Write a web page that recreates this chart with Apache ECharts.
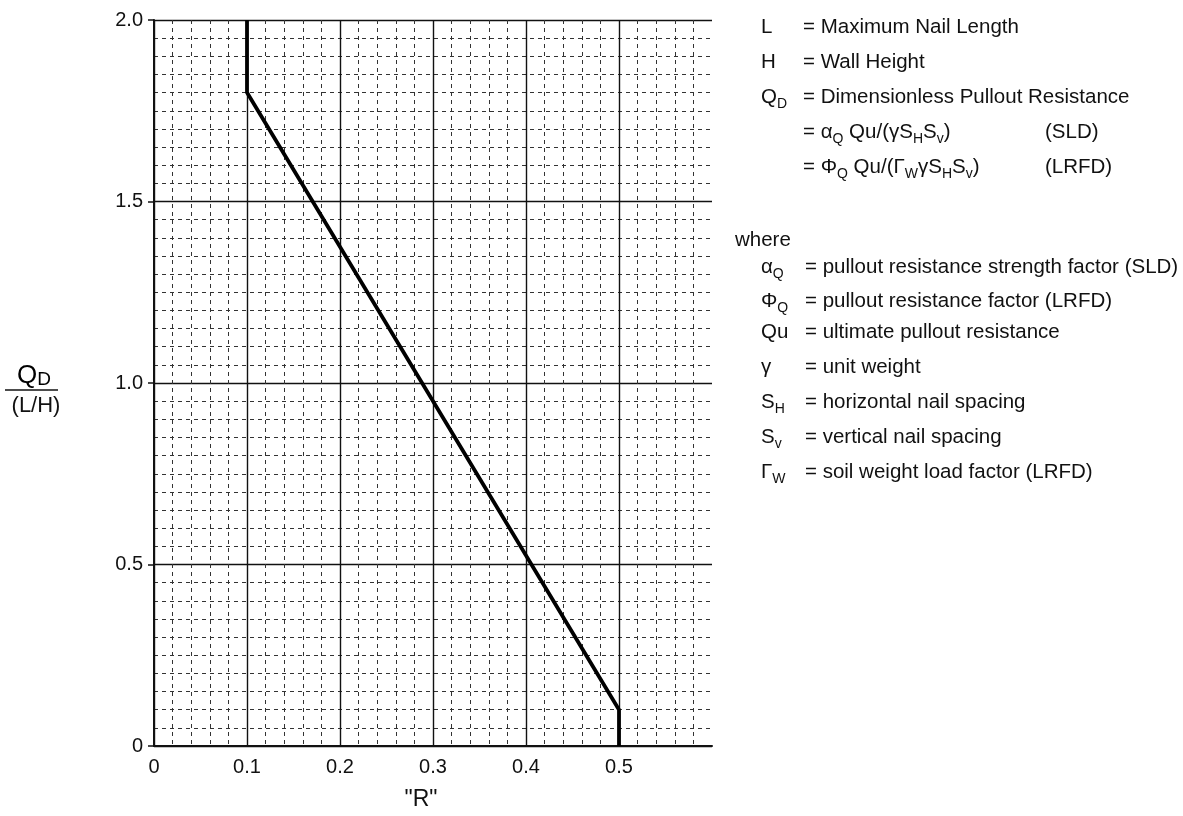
<!DOCTYPE html>
<html>
<head>
<meta charset="utf-8">
<script src="https://cdn.jsdelivr.net/npm/echarts@6/dist/echarts.min.js"></script>
<style>
html,body{margin:0;padding:0;background:#fff;}
#chart{width:1183px;height:816px;}
</style>
</head>
<body>
<div id="chart"></div>
<script>
// ---- data ----
const curveR = [0.1, 0.1, 0.5, 0.5];
const curveQ = [2.0, 1.8, 0.1, 0.0];
const xTickValues = [0, 0.1, 0.2, 0.3, 0.4, 0.5];
const yTickValues = [0, 0.5, 1.0, 1.5, 2.0];
const xAxisTitle = '"R"';
const defSymbols = ['L', 'H', 'Q{s|D}', '', ''];
const defTexts = [
  '= Maximum Nail Length',
  '= Wall Height',
  '= Dimensionless Pullout Resistance',
  '= α{s|Q}{n| Qu/(γS}{s|H}{n|S}{s|v}{n|)}',
  '= Φ{s|Q}{n| Qu/(Γ}{s|W}{n|γS}{s|H}{n|S}{s|v}{n|)}'
];
const defNotes = ['', '', '', '(SLD)', '(LRFD)'];
const whereLabel = 'where';
const whereSymbols = ['α{s|Q}', 'Φ{s|Q}', 'Qu', 'γ', 'S{s|H}', 'S{s|v}', 'Γ{s|W}'];
const whereTexts = [
  '= pullout resistance strength factor (SLD)',
  '= pullout resistance factor (LRFD)',
  '= ultimate pullout resistance',
  '= unit weight',
  '= horizontal nail spacing',
  '= vertical nail spacing',
  '= soil weight load factor (LRFD)'
];

// ---- chart ----
const FONT = '"Liberation Sans", Arial, Helvetica, sans-serif';
const chart = echarts.init(document.getElementById('chart'), null, {renderer: 'canvas'});

const richStyle = {
  n: {fontSize: 20.5, fontFamily: FONT, color: '#111', lineHeight: 28},
  s: {fontSize: 14, fontFamily: FONT, color: '#111', lineHeight: 14, verticalAlign: 'bottom'}
};
function wrap(t) {
  if (!t) return '';
  const i = t.indexOf('{');
  if (i === -1) return '{n|' + t + '}';
  if (i === 0) return t;
  return '{n|' + t.slice(0, i) + '}' + t.slice(i);
}
function txt(x, y, t, align) {
  return {
    type: 'text', x: x, y: y, silent: true,
    style: {text: wrap(t), rich: richStyle, align: align || 'left', verticalAlign: 'middle',
      fontSize: 20.5, fontFamily: FONT, fill: '#111'}
  };
}

const graphics = [];
const defRowsY = [27, 62, 97, 132, 167];
for (let i = 0; i < defTexts.length; i++) {
  if (defSymbols[i]) graphics.push(txt(761, defRowsY[i], defSymbols[i]));
  graphics.push(txt(803, defRowsY[i], defTexts[i]));
  if (defNotes[i]) graphics.push(txt(1045, defRowsY[i], defNotes[i]));
}
graphics.push(txt(735, 240, whereLabel));
const whereRowsY = [267, 301, 332, 367, 402, 437, 472];
for (let i = 0; i < whereTexts.length; i++) {
  graphics.push(txt(761, whereRowsY[i], whereSymbols[i]));
  graphics.push(txt(805, whereRowsY[i], whereTexts[i]));
}
// y-axis title as fraction QD / (L/H)
graphics.push({
  type: 'text', x: 34, y: 376, silent: true,
  style: {text: '{q|Q}{d|D}', align: 'center', verticalAlign: 'middle',
    rich: {q: {fontSize: 26, fontFamily: FONT, color: '#111', lineHeight: 26, verticalAlign: 'bottom'},
           d: {fontSize: 19, fontFamily: FONT, color: '#111', lineHeight: 22, verticalAlign: 'bottom'}}}
});
graphics.push({type: 'line', silent: true, shape: {x1: 5, y1: 390, x2: 58, y2: 390},
  style: {stroke: '#111', lineWidth: 1.5}});
graphics.push({type: 'text', x: 36, y: 406, silent: true,
  style: {text: '(L/H)', align: 'center', verticalAlign: 'middle', fontSize: 22, fontFamily: FONT, fill: '#111'}});

function fmt(v) { return Math.abs(v) < 1e-9 ? '0' : v.toFixed(1); }

const option = {
  backgroundColor: '#fff',
  animation: false,
  grid: {left: 154, right: 471, top: 20, bottom: 67, containLabel: false},
  xAxis: {
    type: 'value', min: 0, max: 0.6, interval: 0.1,
    name: xAxisTitle, nameLocation: 'middle', nameGap: 42,
    nameTextStyle: {fontSize: 23, fontFamily: FONT, color: '#111', padding: [0, 24, 0, 0]},
    axisLine: {show: true, lineStyle: {color: '#111', width: 2}},
    axisTick: {show: false},
    axisLabel: {fontSize: 20, fontFamily: FONT, color: '#111', margin: 11, showMaxLabel: false,
      formatter: function (v) { return xTickValues.some(t => Math.abs(t - v) < 1e-9) ? fmt(v) : ''; }},
    splitLine: {show: true, showMaxLine: false, lineStyle: {color: '#111', width: 1.4}},
    minorTick: {show: false, splitNumber: 5},
    minorSplitLine: {show: true, lineStyle: {color: '#333', width: 1, type: [4, 4]}}
  },
  yAxis: {
    type: 'value', min: 0, max: 2.0, interval: 0.5,
    axisLine: {show: true, lineStyle: {color: '#111', width: 2}},
    axisTick: {show: true, length: 6, lineStyle: {color: '#111', width: 1.5}},
    axisLabel: {fontSize: 20, fontFamily: FONT, color: '#111', margin: 11,
      formatter: function (v) { return yTickValues.some(t => Math.abs(t - v) < 1e-9) ? fmt(v) : ''; }},
    splitLine: {show: true, lineStyle: {color: '#111', width: 1.4}},
    minorTick: {show: false, splitNumber: 10},
    minorSplitLine: {show: true, lineStyle: {color: '#333', width: 1, type: [4, 4]}}
  },
  series: [{
    type: 'line',
    data: curveR.map((r, i) => [r, curveQ[i]]),
    showSymbol: false, symbol: 'none',
    lineStyle: {color: '#000', width: 3.8},
    z: 5
  }],
  graphic: graphics
};
chart.setOption(option);
</script>
</body>
</html>
